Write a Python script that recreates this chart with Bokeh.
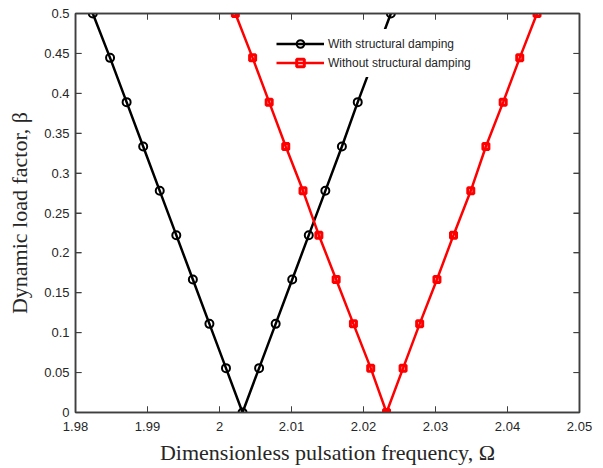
from bokeh.plotting import figure
from bokeh.models import LinearAxis, FixedTicker, CustomJSTickFormatter, Range1d, Legend, BoxAnnotation
from bokeh.embed import file_html
from bokeh.resources import INLINE

# ---- data ----
beta_down = [0.5, 0.4444, 0.3889, 0.3333, 0.2778, 0.2222, 0.1667, 0.1111, 0.0556, 0.0]
beta_up = [0.0556, 0.1111, 0.1667, 0.2222, 0.2778, 0.3333, 0.3889, 0.4444, 0.5]

with_damp_left = [1.9824, 1.9848, 1.9871, 1.9894, 1.9917, 1.9940, 1.9963, 1.9986, 2.0009, 2.0032]
with_damp_right = [2.0055, 2.0078, 2.0101, 2.0124, 2.0147, 2.0170, 2.0192, 2.0215, 2.0238]
without_damp_left = [2.0022, 2.0046, 2.0069, 2.0092, 2.0116, 2.0138, 2.0162, 2.0186, 2.0210, 2.0232]
without_damp_right = [2.0255, 2.0278, 2.0302, 2.0325, 2.0349, 2.0370, 2.0394, 2.0417, 2.0441]

x_ticks = [1.98, 1.99, 2.00, 2.01, 2.02, 2.03, 2.04, 2.05]
y_ticks = [0, 0.05, 0.1, 0.15, 0.2, 0.25, 0.3, 0.35, 0.4, 0.45, 0.5]

series_labels = ["With structural damping", "Without structural damping"]
x_label = "Dimensionless pulsation frequency, \u03a9"
y_label = "Dynamic load factor, \u03b2"

beta_all = beta_down + beta_up
with_x = with_damp_left + with_damp_right
without_x = without_damp_left + without_damp_right

TXT = "#262626"
AX = "#404040"

FW, FH = 504, 399
p = figure(width=603, height=468, frame_width=FW, frame_height=FH,
           x_range=Range1d(x_ticks[0], x_ticks[-1]), y_range=Range1d(y_ticks[0], y_ticks[-1]),
           output_backend="svg", toolbar_location=None,
           min_border_left=75, min_border_right=24, min_border_top=13, min_border_bottom=56,
           x_axis_label=x_label, y_axis_label=y_label)
p.xgrid.visible = False
p.ygrid.visible = False
p.outline_line_color = AX
p.outline_line_width = 1.5

fmt = CustomJSTickFormatter(code="return tick.toFixed(2).replace(/\\.?0+$/, '');")
blank = CustomJSTickFormatter(code="return '';")

def style_axis(ax, labels=True):
    ax.minor_tick_line_color = None
    ax.major_tick_in = 6
    ax.major_tick_out = 0
    ax.axis_line_color = AX
    ax.major_tick_line_color = AX
    ax.axis_line_width = 1.5
    ax.major_tick_line_width = 1
    ax.major_label_text_font = "Liberation Sans"
    ax.major_label_text_font_size = "13px"
    ax.major_label_text_color = TXT
    ax.formatter = fmt if labels else blank
    ax.axis_label_text_font = "Liberation Serif"
    ax.axis_label_text_font_size = "22px"
    ax.axis_label_text_font_style = "normal"
    ax.axis_label_text_color = TXT
    if not labels:
        ax.major_label_standoff = 0

xb = p.xaxis[0]
xb.ticker = FixedTicker(ticks=x_ticks)
style_axis(xb)
xb.major_label_standoff = 9
xb.axis_label_standoff = 6

yl = p.yaxis[0]
yl.ticker = FixedTicker(ticks=y_ticks)
style_axis(yl)
yl.major_label_standoff = 6
yl.axis_label_standoff = 9

xt = LinearAxis(ticker=FixedTicker(ticks=x_ticks))
style_axis(xt, False)
p.add_layout(xt, "above")

yr = LinearAxis(ticker=FixedTicker(ticks=y_ticks))
style_axis(yr, False)
p.add_layout(yr, "right")

# frame box and inward ticks drawn as plain glyphs as well (same look as axes)
p.add_layout(BoxAnnotation(fill_alpha=0, line_color=AX, line_width=1.5, level="overlay"))
x0, x1 = p.x_range.start, p.x_range.end
y0, y1 = p.y_range.start, p.y_range.end
tx = 6 * (x1 - x0) / FW
ty = 6 * (y1 - y0) / FH
nx, ny = len(x_ticks), len(y_ticks)
p.segment(x0=x_ticks, y0=[y0] * nx, x1=x_ticks, y1=[y0 + ty] * nx, line_color=AX, line_width=1)
p.segment(x0=x_ticks, y0=[y1] * nx, x1=x_ticks, y1=[y1 - ty] * nx, line_color=AX, line_width=1)
p.segment(x0=[x0] * ny, y0=y_ticks, x1=[x0 + tx] * ny, y1=y_ticks, line_color=AX, line_width=1)
p.segment(x0=[x1] * ny, y0=y_ticks, x1=[x1 - tx] * ny, y1=y_ticks, line_color=AX, line_width=1)

l1 = p.line(with_x, beta_all, line_color="black", line_width=2.5)
s1 = p.scatter(with_x, beta_all, marker="circle", size=8, line_color="black",
               line_width=2, fill_alpha=0)
l2 = p.line(without_x, beta_all, line_color="#ff0000", line_width=2.5)
s2 = p.scatter(without_x, beta_all, marker="square", size=6, line_color="#ff0000",
               line_width=3, fill_alpha=0)

legend = Legend(items=[(series_labels[0], [l1, s1]), (series_labels[1], [l2, s2])],
                location=(196, 335))
legend.glyph_width = 48
legend.glyph_height = 19
legend.label_height = 19
legend.spacing = 0
legend.padding = 5
legend.margin = 0
legend.label_standoff = 4
legend.border_line_alpha = 0
legend.background_fill_color = "white"
legend.background_fill_alpha = 1
legend.label_text_font = "Liberation Sans"
legend.label_text_font_size = "12px"
legend.label_text_color = TXT
p.add_layout(legend, "center")

open("out.html", "w").write(file_html(p, INLINE))
